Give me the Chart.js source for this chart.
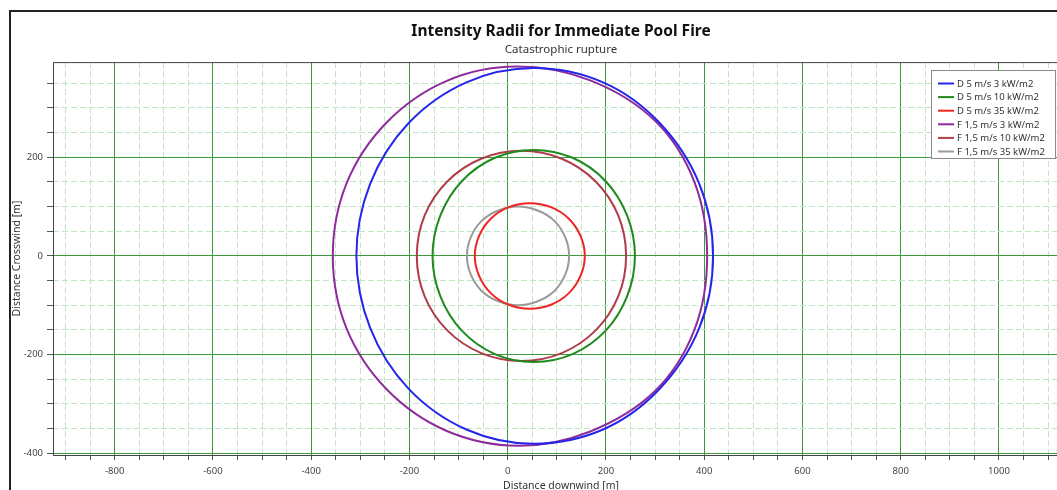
<!DOCTYPE html>
<html>
<head>
<meta charset="utf-8">
<script src="https://cdn.jsdelivr.net/npm/chart.js@4.4.1/dist/chart.umd.min.js"></script>
<style>
  html, body { margin: 0; padding: 0; background: #fff; overflow: hidden; }
  #frame { position: absolute; left: 9px; top: 10px; border: 2px solid #222; width: 1098px; height: 480px; }
  canvas { display: block; }
</style>
</head>
<body>
<div id="frame"><canvas id="chart" width="1098" height="480"></canvas></div>
<script>
// tick labels shown on the axes
const xTickLabels = [-800, -600, -400, -200, 0, 200, 400, 600, 800, 1000];
const yTickLabels = [-400, -200, 0, 200];

const seriesLabels = [
  "D 5 m/s 3 kW/m2",
  "D 5 m/s 10 kW/m2",
  "D 5 m/s 35 kW/m2",
  "F 1,5 m/s 3 kW/m2",
  "F 1,5 m/s 10 kW/m2",
  "F 1,5 m/s 35 kW/m2",
];
const seriesColors = ["#2626ea", "#1f8a1f", "#f02424", "#8e2c9c", "#b03c4a", "#9a9a9a"];

// contour points [downwind, crosswind] in metres
const d5_3kw = [[418,0],[390,146],[308,271],[194,352],[53,381],[-84,352],[-202,269],[-280,146],[-308,0],[-280,-146],[-202,-269],[-84,-352],[53,-381],[194,-352],[308,-271],[390,-146]];
const d5_10kw = [[259,0],[243,82],[199,152],[132,199],[53,215],[-26,199],[-93,152],[-137,82],[-153,0],[-137,-82],[-93,-152],[-26,-199],[53,-215],[132,-199],[199,-152],[243,-82]];
const d5_35kw = [[157,0],[148,41],[124,76],[88,99],[45,107],[2,99],[-34,76],[-58,41],[-67,0],[-58,-41],[-34,-76],[2,-99],[45,-107],[88,-99],[124,-76],[148,-41]];
const f15_3kw = [[406,0],[380,150],[300,274],[168,356],[18,384],[-124,355],[-246,271],[-328,147],[-356,0],[-328,-147],[-246,-271],[-124,-355],[22,-385],[168,-356],[300,-274],[380,-150]];
const f15_10kw = [[241,0],[225,82],[179,151],[110,197],[28,213],[-54,197],[-123,151],[-169,82],[-185,0],[-169,-82],[-123,-151],[-54,-197],[28,-213],[110,-197],[179,-151],[225,-82]];
const f15_35kw = [[125,0],[117,38],[95,71],[61,92],[21,100],[-19,92],[-53,71],[-75,38],[-83,0],[-75,-38],[-53,-71],[-19,-92],[21,-100],[61,-92],[95,-71],[117,-38]];

const contours = [d5_3kw, d5_10kw, d5_35kw, f15_3kw, f15_10kw, f15_35kw];

Chart.defaults.font.family = "'Noto Sans', 'DejaVu Sans', sans-serif";
Chart.defaults.color = "#333";

const isMult = (v, step) => Math.abs(Math.round(v) % step) === 0;

const gridColor = (ctx) => {
  const v = ctx.tick ? ctx.tick.value : NaN;
  if (isMult(v, 200)) return "#3c9a3c";
  if (isMult(v, 50)) return "#c2e6c2";
  return "rgba(0,0,0,0)";
};
const gridDash = (ctx) => {
  const v = ctx.tick ? ctx.tick.value : NaN;
  return isMult(v, 200) ? [] : [6, 3];
};

// close each contour into a loop (same as radar lines do)
const closeContours = {
  id: "closeContours",
  afterDatasetsUpdate(chart) {
    chart.data.datasets.forEach((ds, i) => {
      const line = chart.getDatasetMeta(i).dataset;
      if (!line) return;
      line._loop = true;
      line._fullLoop = true;
      line._pointsUpdated = false;
      delete line._segments;
      line._path = undefined;
    });
  },
};

// frame round the plot area
const plotFrame = {
  id: "plotFrame",
  afterDraw(chart) {
    const { ctx, chartArea: a } = chart;
    ctx.save();
    ctx.strokeStyle = "#444";
    ctx.lineWidth = 1;
    ctx.strokeRect(a.left + 0.5, a.top + 0.5, a.right - a.left, a.bottom - a.top);
    ctx.restore();
  },
};

// boxed legend in the top right corner
const boxLegend = {
  id: "boxLegend",
  afterDraw(chart) {
    const ctx = chart.ctx;
    const x0 = 920, y0 = 58, w = 124, h = 88, row = 13.6;
    ctx.save();
    ctx.fillStyle = "#fff";
    ctx.fillRect(x0, y0, w, h);
    ctx.strokeStyle = "#8a8a8a";
    ctx.lineWidth = 1;
    ctx.strokeRect(x0 + 0.5, y0 + 0.5, w, h);
    ctx.font = "9.5px 'Noto Sans'";
    ctx.textBaseline = "middle";
    chart.data.datasets.forEach((ds, i) => {
      const y = y0 + 13.5 + i * row;
      ctx.strokeStyle = ds.borderColor;
      ctx.lineWidth = 2;
      ctx.beginPath();
      ctx.moveTo(x0 + 7, y);
      ctx.lineTo(x0 + 23, y);
      ctx.stroke();
      ctx.fillStyle = "#333";
      ctx.fillText(ds.label, x0 + 26, y + 0.5);
    });
    ctx.restore();
  },
};

new Chart(document.getElementById("chart"), {
  type: "line",
  data: {
    datasets: contours.map((pts, i) => ({
      label: seriesLabels[i],
      data: pts.map(([x, y]) => ({ x, y })),
      borderColor: seriesColors[i],
      backgroundColor: seriesColors[i],
      borderWidth: 2,
      pointRadius: 0,
      tension: 0.34,
      fill: false,
    })),
  },
  options: {
    responsive: false,
    animation: false,
    layout: { padding: { top: 4, left: 0, right: 40, bottom: 0 } },
    plugins: {
      legend: { display: false },
      tooltip: { enabled: false },
      title: {
        display: true,
        text: "Intensity Radii for Immediate Pool Fire",
        fullSize: false,
        color: "#111",
        font: { size: 15.5, weight: "bold" },
        padding: { top: 6, bottom: 1 },
      },
      subtitle: {
        display: true,
        text: "Catastrophic rupture",
        fullSize: false,
        color: "#333",
        font: { size: 11.5 },
        padding: { top: 1, bottom: 5.7 },
      },
    },
    scales: {
      x: {
        type: "linear",
        position: "bottom",
        min: -925.5,
        max: 1142.5,
        afterFit: (scale) => { scale.height = 37; },
        ticks: {
          stepSize: 50,
          includeBounds: false,
          autoSkip: false,
          maxRotation: 0,
          padding: 6,
          color: "#444",
          font: { size: 9.5 },
          callback: (v) => (xTickLabels.includes(v) ? String(v) : ""),
        },
        grid: {
          color: gridColor,
          lineWidth: 1,
          tickLength: 5,
          tickColor: "#555",
        },
        border: { display: false, dash: gridDash },
        title: {
          display: true,
          text: "Distance downwind [m]",
          color: "#333",
          font: { size: 10.5 },
          padding: 0,
        },
      },
      y: {
        type: "linear",
        min: -403.7,
        max: 393,
        afterFit: (scale) => { scale.width = 42; },
        ticks: {
          stepSize: 50,
          includeBounds: false,
          autoSkip: false,
          padding: 4,
          color: "#444",
          font: { size: 9.5 },
          callback: (v) => (yTickLabels.includes(v) ? String(v) : ""),
        },
        grid: {
          color: gridColor,
          lineWidth: 1,
          tickLength: 6,
          tickColor: "#555",
        },
        border: { display: false, dash: gridDash },
        title: {
          display: true,
          text: "Distance Crosswind [m]",
          color: "#333",
          font: { size: 10.5 },
          padding: 0,
        },
      },
    },
  },
  plugins: [closeContours, plotFrame, boxLegend],
});
</script>
</body>
</html>
